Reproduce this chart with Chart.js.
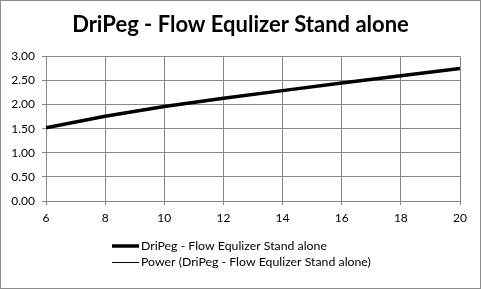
<!DOCTYPE html>
<html>
<head>
<meta charset="utf-8">
<style>
  html, body { margin: 0; padding: 0; background: #fff; }
  #wrap { width: 481px; height: 289px; }
</style>
<script src="https://cdn.jsdelivr.net/npm/chart.js@4/dist/chart.umd.min.js"></script>
</head>
<body>
<div id="wrap"><canvas id="chart" width="481" height="289"></canvas></div>
<script>
// 그래프 데이터
const titleText = 'DriPeg - Flow Equlizer Stand alone';
const seriesLabel = 'DriPeg - Flow Equlizer Stand alone';
const trendLabel = 'Power (DriPeg - Flow Equlizer Stand alone)';
const xValues = [6, 8, 10, 12, 14, 16, 18, 20];
const flowValues = [1.52, 1.76, 1.96, 2.13, 2.29, 2.45, 2.60, 2.75];
const trendValues = [1.52, 1.75, 1.96, 2.13, 2.29, 2.45, 2.60, 2.75];

const fontFamily = 'Lato, "Open Sans", sans-serif';
const gridColor = '#878787';

// 바깥 테두리와 흰 배경
const framePlugin = {
    id: 'frame',
    beforeDraw(chart) {
        const ctx = chart.ctx;
        ctx.save();
        ctx.fillStyle = '#fff';
        ctx.fillRect(0, 0, chart.width, chart.height);
        ctx.strokeStyle = '#8c8c8c';
        ctx.lineWidth = 1;
        ctx.strokeRect(0.5, 0.5, chart.width - 1, chart.height - 1);
        ctx.restore();
    }
};

// 엑셀처럼 두 줄로 왼쪽 정렬된 범례
const legendPlugin = {
    id: 'stackLegend',
    afterDraw(chart) {
        const ctx = chart.ctx;
        ctx.save();
        ctx.font = '12.3px ' + fontFamily;
        ctx.textBaseline = 'middle';
        ctx.fillStyle = '#000';
        const rows = [246, 262.5];
        chart.data.datasets.forEach((ds, i) => {
            const y = rows[i];
            ctx.strokeStyle = ds.borderColor;
            ctx.lineWidth = ds.borderWidth;
            ctx.beginPath();
            ctx.moveTo(112, y);
            ctx.lineTo(139, y);
            ctx.stroke();
            ctx.fillText(ds.label, 141, y);
        });
        ctx.restore();
    }
};

const ctx = document.getElementById('chart').getContext('2d');
new Chart(ctx, {
    type: 'line',
    data: {
        datasets: [
            {
                label: seriesLabel,
                data: xValues.map((x, i) => ({ x: x, y: flowValues[i] })),
                borderColor: '#000',
                borderWidth: 3.5,
                pointRadius: 0,
                tension: 0
            },
            {
                label: trendLabel,
                data: xValues.map((x, i) => ({ x: x, y: trendValues[i] })),
                borderColor: '#000',
                borderWidth: 1,
                pointRadius: 0,
                tension: 0.4
            }
        ]
    },
    options: {
        responsive: false,
        animation: false,
        layout: { padding: { left: 0, right: 0, top: 0, bottom: 58 } },
        plugins: {
            legend: { display: false },
            tooltip: { enabled: false },
            title: {
                display: true,
                text: titleText,
                color: '#000',
                font: { family: fontFamily, size: 22, weight: 'bold' },
                padding: { top: 12, bottom: 18 }
            }
        },
        scales: {
            x: {
                type: 'linear',
                min: 6,
                max: 20,
                ticks: { stepSize: 2, color: '#000', padding: 6, font: { family: fontFamily, size: 12 } },
                grid: { color: gridColor, tickLength: 4 },
                border: { color: gridColor },
                afterFit(scale) { scale.height = 30; }
            },
            y: {
                min: 0,
                max: 3,
                ticks: {
                    stepSize: 0.5,
                    color: '#000',
                    padding: 7,
                    font: { family: fontFamily, size: 12 },
                    callback: v => v.toFixed(2)
                },
                grid: { color: gridColor, tickLength: 4 },
                border: { color: gridColor },
                afterFit(scale) { scale.width = 46; }
            },
            // 오른쪽 여백만 잡아주는 빈 축
            yRight: {
                position: 'right',
                min: 0,
                max: 3,
                ticks: { display: false },
                grid: { display: false, drawTicks: false },
                border: { display: false },
                afterFit(scale) { scale.width = 21; }
            }
        }
    },
    plugins: [framePlugin, legendPlugin]
});
</script>
</body>
</html>
